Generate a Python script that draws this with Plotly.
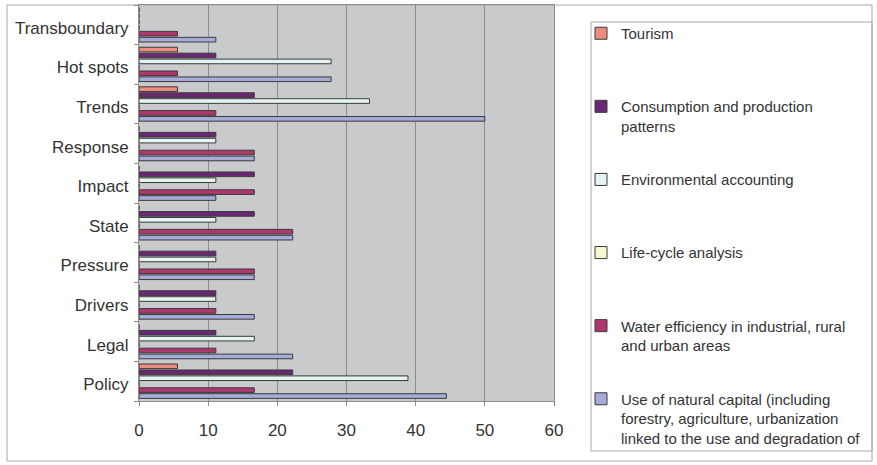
import plotly.graph_objects as go

# Categories (bottom to top, as drawn)
categories = ["Policy", "Legal", "Drivers", "Pressure", "State",
              "Impact", "Response", "Trends", "Hot spots", "Transboundary"]

# Series values (%), same order as categories
natural_capital = [44.44, 22.22, 16.67, 16.67, 22.22, 11.11, 16.67, 50.0, 27.78, 11.11]
water_efficiency = [16.67, 11.11, 11.11, 16.67, 22.22, 16.67, 16.67, 11.11, 5.56, 5.56]
life_cycle = [0, 0, 0, 0, 0, 0, 0, 0, 0, 0]
env_accounting = [38.89, 16.67, 11.11, 11.11, 11.11, 11.11, 11.11, 33.33, 27.78, 0]
consumption = [22.22, 11.11, 11.11, 11.11, 16.67, 16.67, 11.11, 16.67, 11.11, 0]
tourism = [5.56, 0, 0, 0, 0, 0, 0, 5.56, 5.56, 0]

series_names = [
    "Use of natural capital (including<br>forestry, agriculture, urbanization<br>linked to the use and degradation of",
    "Water efficiency in industrial, rural<br>and urban areas<br>\u00a0",
    "Life-cycle analysis<br>\u00a0<br>\u00a0",
    "Environmental accounting<br>\u00a0<br>\u00a0",
    "Consumption and production<br>patterns<br>\u00a0",
    "Tourism<br>\u00a0<br>\u00a0",
]
series_values = [natural_capital, water_efficiency, life_cycle,
                 env_accounting, consumption, tourism]
series_colors = ["#A6ACD8", "#B0376E", "#F8F8D0", "#E6F3F3", "#6A2873", "#EE8C80"]

x_ticks = [0, 10, 20, 30, 40, 50, 60]

W, H = 877, 465
L, R, T, B = 139, 554, 5, 401
ML, MR, MT, MB = L, W - R, T, H - B
pw, ph = R - L, B - T


def px_x(x):
    return (x - L) / pw


def px_y(y):
    return (B - y) / ph


fig = go.Figure()
n = len(series_names)
for i, (name, vals, col) in enumerate(zip(series_names, series_values, series_colors)):
    fig.add_trace(go.Bar(
        y=categories, x=vals, name=name, orientation="h",
        marker=dict(color=col, line=dict(color="#3a3a3a", width=1)),
        legendgroup="g%d" % i,
        legendrank=n - i,
    ))

font_family = "Liberation Sans, Arial, sans-serif"

fig.update_layout(
    width=W, height=H,
    margin=dict(l=ML, r=MR, t=MT, b=MB, pad=0),
    paper_bgcolor="white",
    plot_bgcolor="#C8CACC",
    barmode="group",
    bargap=0.1,
    bargroupgap=0.22,
    font=dict(family=font_family, color="#333333", size=17),
    legend=dict(
        x=px_x(581), xanchor="left",
        y=px_y(17), yanchor="top",
        traceorder="grouped",
        tracegroupgap=11.6,
        valign="top",
        maxheight=460,
        bgcolor="rgba(0,0,0,0)",
        borderwidth=0,
        font=dict(family=font_family, size=15, color="#333333"),
    ),
    xaxis=dict(
        range=[0, 60], tickvals=x_ticks,
        showgrid=True, gridcolor="#8C8C8C", gridwidth=1,
        showline=True, linecolor="#8C8C8C", linewidth=1, mirror=True,
        ticks="outside", ticklen=4, tickcolor="#8C8C8C",
        ticklabelstandoff=10,
        zeroline=False,
        tickfont=dict(size=17),
    ),
    yaxis=dict(
        showgrid=False,
        showline=True, linecolor="#8C8C8C", linewidth=1, mirror=True,
        ticks="outside", ticklen=4, tickcolor="#8C8C8C",
        tickson="boundaries",
        ticklabelstandoff=6,
        ticklabelshift=3,
        tickfont=dict(size=17),
    ),
    shapes=[
        # outer chart border
        dict(type="rect", xref="paper", yref="paper",
             x0=px_x(7), x1=px_x(872), y0=px_y(5), y1=px_y(461),
             line=dict(color="#A8A8A8", width=1), layer="below"),
        # legend box
        dict(type="rect", xref="paper", yref="paper",
             x0=px_x(591), x1=px_x(872), y0=px_y(22), y1=px_y(451),
             line=dict(color="#A8A8A8", width=1)),
    ],
)

fig.write_html("out.html",
               config={"displayModeBar": False},
               post_script="document.body.style.margin='0';document.body.style.padding='0';")
